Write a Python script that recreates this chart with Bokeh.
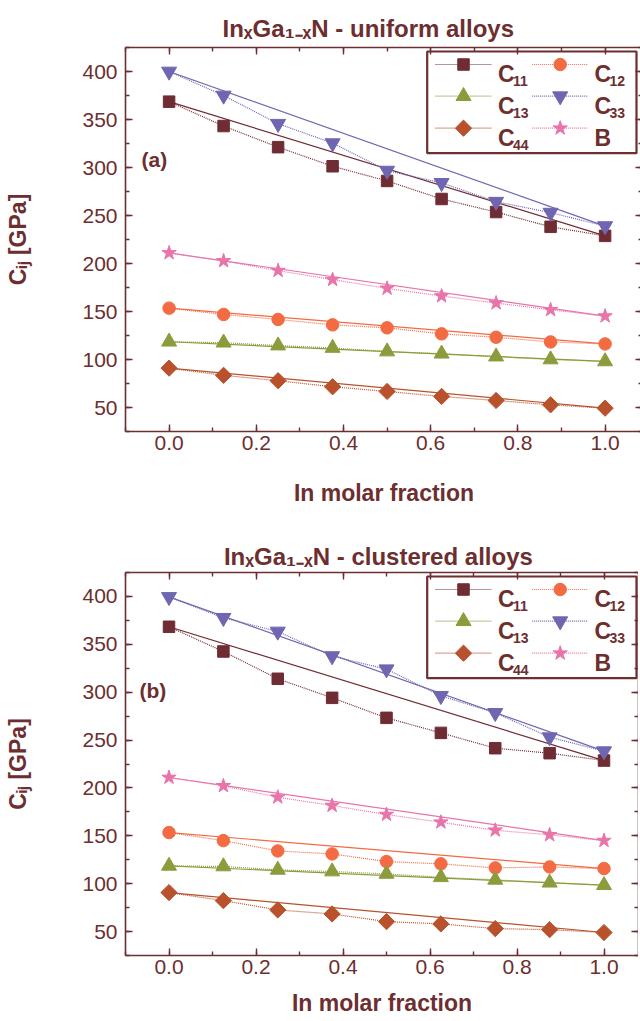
import math
from bokeh.plotting import figure
from bokeh.models import Range1d, LinearAxis, SingleIntervalTicker, Label, CustomJSTickFormatter, NumeralTickFormatter
from bokeh.layouts import column
from bokeh.embed import file_html
from bokeh.resources import INLINE

# ---------------- data ----------------
x_frac = [0.0, 0.125, 0.25, 0.375, 0.5, 0.625, 0.75, 0.875, 1.0]

# (a) uniform alloys
C11_a = [368.6, 343.2, 321.2, 301.3, 286.0, 267.2, 253.6, 238.2, 228.8]
C12_a = [153.5, 146.9, 141.7, 136.1, 133.0, 126.7, 123.2, 118.3, 116.2]
C13_a = [118.5, 117.5, 114.5, 112.0, 108.3, 106.0, 103.0, 100.0, 98.0]
C33_a = [400.0, 375.0, 345.6, 325.4, 296.8, 284.0, 264.4, 253.0, 239.0]
C44_a = [91.0, 83.5, 77.9, 71.6, 66.7, 61.5, 57.3, 52.8, 49.3]
B_a = [211.0, 202.7, 192.6, 183.2, 174.1, 166.1, 158.8, 151.8, 145.2]

# (b) clustered alloys
C11_b = [368.3, 342.5, 314.0, 294.1, 273.2, 257.5, 241.5, 236.3, 228.6]
C12_b = [153.4, 145.0, 134.2, 131.1, 123.1, 120.7, 116.5, 117.5, 115.8]
C13_b = [118.6, 118.0, 114.4, 112.7, 110.2, 106.7, 104.0, 101.0, 98.4]
C33_b = [399.5, 377.7, 363.4, 337.7, 324.0, 296.2, 278.4, 253.0, 238.4]
C44_b = [90.7, 82.3, 72.6, 68.4, 60.4, 58.0, 53.1, 52.0, 49.0]
B_b = [210.9, 202.2, 190.3, 181.6, 172.2, 164.2, 155.8, 151.0, 145.0]

series_main = ["C", "C", "C", "C", "C", "B"]
series_sub = ["11", "12", "13", "33", "44", ""]
title_a = "In\u2093Ga\u2081\u208b\u2093N - uniform alloys"
title_b = "In\u2093Ga\u2081\u208b\u2093N - clustered alloys"
y_label = "C\u1d62\u2c7c [GPa]"
x_label = "In molar fraction"

# ---------------- style ----------------
AX = "#6d2e30"
FONT = "Liberation Sans"
COLORS = ["#6f2c33", "#f26b43", "#8c9c3c", "#6e66b0", "#b9512c", "#e874aa"]
MARKERS = ["square", "circle", "triangle", "inverted_triangle", "square", "star"]
ANGLES = [0, 0, 0, 0, math.pi / 4, 0]
SIZES = [11.5, 12.5, 15, 15, 11.5, 15]


def make_panel(series, title, tag, g):
    sx, sy = g["sx"], g["sy"]
    fw, fh = g["fw"], g["fh"]
    x_end = -0.1 + fw / sx

    def X(dx):
        return -0.1 + dx / sx

    def Y(dy):
        return 425 - dy / sy

    p = figure(frame_width=fw, frame_height=fh, x_range=Range1d(-0.1, x_end), y_range=Range1d(25, 425),
               min_border_left=g["bl"], min_border_right=0, min_border_top=g["bt"],
               min_border_bottom=g["bb"], toolbar_location=None, output_backend="svg",
               background_fill_color="white", border_fill_color="white", outline_line_color=None)
    p.xgrid.visible = False
    p.ygrid.visible = False

    blank = CustomJSTickFormatter(code="return ''")

    def style(ax, shown):
        ax.axis_line_color = AX
        ax.axis_line_width = 1.6
        ax.major_tick_line_color = AX
        ax.minor_tick_line_color = AX
        ax.major_tick_line_width = 1.4
        ax.minor_tick_line_width = 1.4
        ax.major_tick_in = 7
        ax.major_tick_out = 0
        ax.minor_tick_in = 4
        ax.minor_tick_out = 0
        ax.major_label_text_color = AX
        ax.major_label_text_font = FONT
        ax.major_label_text_font_size = "21px"
        ax.axis_label_text_color = AX
        ax.axis_label_text_font = FONT
        ax.axis_label_text_font_style = "bold"
        ax.axis_label_text_font_size = "23px"
        if not shown:
            ax.formatter = blank
            ax.major_label_standoff = 0
            ax.major_label_text_font_size = "0px"

    xa = p.xaxis[0]
    ya = p.yaxis[0]
    xa.ticker = SingleIntervalTicker(interval=0.2, num_minor_ticks=2)
    ya.ticker = SingleIntervalTicker(interval=50, num_minor_ticks=2)
    style(xa, True)
    style(ya, True)
    xa.formatter = NumeralTickFormatter(format="0.0")
    xa.major_label_standoff = 4
    ya.major_label_standoff = 8
    xa.axis_label = x_label
    xa.axis_label_standoff = g["xl_so"]
    ya.axis_label = y_label
    ya.axis_label_standoff = g["yl_so"]

    top = LinearAxis(ticker=SingleIntervalTicker(interval=0.2, num_minor_ticks=2))
    right = LinearAxis(ticker=SingleIntervalTicker(interval=50, num_minor_ticks=2))
    style(top, False)
    style(right, False)
    p.add_layout(top, "above")
    p.add_layout(right, "right")

    p.title.text = title
    p.title.text_font = FONT
    p.title.text_font_style = "bold"
    p.title.text_font_size = "24px"
    p.title.text_color = AX
    p.title.align = "left"
    p.title.offset = g["title_dx"]
    p.title.standoff = g["title_so"]

    # data lines
    for vals, col in zip(series, COLORS):
        p.line(x_frac, vals, line_color=col, line_width=1.2, line_dash="1 1")
        p.line([x_frac[0], x_frac[-1]], [vals[0], vals[-1]], line_color=col, line_width=1.2)
    for vals, col, mk, ang, sz in zip(series, COLORS, MARKERS, ANGLES, SIZES):
        p.scatter(x_frac, vals, marker=mk, size=sz, angle=ang, fill_color=col, line_color=col)

    # legend box
    L = g["leg"]
    p.quad(left=[X(L["box"][0])], right=[X(L["box"][1])], top=[Y(L["box"][2])], bottom=[Y(L["box"][3])],
           fill_color="white", line_color=AX, line_width=2.2)
    for i in range(6):
        r, c = divmod(i, 2)
        ry = L["rows"][r]
        lx0, lx1, mx, tx = L["cols"][c]
        p.line([X(lx0), X(lx1)], [Y(ry), Y(ry)], line_color=COLORS[i], line_width=1.2, line_dash="1 1")
        p.scatter([X(mx)], [Y(ry)], marker=MARKERS[i], size=SIZES[i], angle=ANGLES[i],
                  fill_color=COLORS[i], line_color=COLORS[i])
        p.add_layout(Label(x=X(tx), y=Y(ry + 9.3), text=series_main[i], text_font=FONT,
                           text_font_style="bold", text_font_size="23px", text_color=AX,
                           text_baseline="alphabetic"))
        if series_sub[i]:
            p.add_layout(Label(x=X(tx + 15), y=Y(ry + 16.7), text=series_sub[i], text_font=FONT,
                               text_font_style="bold", text_font_size="14px", text_color=AX,
                               text_baseline="alphabetic"))

    # panel tag
    p.add_layout(Label(x=X(g["tag_dx"]), y=Y(g["tag_dy"]), text=tag, text_font=FONT,
                       text_font_style="bold", text_font_size="21px", text_color=AX,
                       text_baseline="alphabetic"))
    return p


legend_geom = {"box": (301.7, 511.0, 4.0, 105.7), "rows": [17.0, 48.7, 80.7],
               "cols": [(310.0, 366.3, 338.0, 372.5), (406.7, 462.3, 434.7, 469.0)]}

g_top = dict(sx=436.0, sy=0.96, fw=517, fh=384, bl=121, bt=47, bb=86, leg=legend_geom,
             title_dx=97.0, title_so=10.5, yl_so=48, xl_so=27, tag_dx=16.0, tag_dy=112.0)
g_bot = dict(sx=435.0, sy=0.9575, fw=513, fh=383, bl=125, bt=55, bb=66, leg=legend_geom,
             title_dx=98.4, title_so=5.5, yl_so=48, xl_so=13, tag_dx=14.0, tag_dy=118.0)

p_top = make_panel([C11_a, C12_a, C13_a, C33_a, C44_a, B_a], title_a, "(a)", g_top)
p_bot = make_panel([C11_b, C12_b, C13_b, C33_b, C44_b, B_b], title_b, "(b)", g_bot)

layout = column(p_top, p_bot, spacing=0)
open("out.html", "w").write(file_html(layout, INLINE))
